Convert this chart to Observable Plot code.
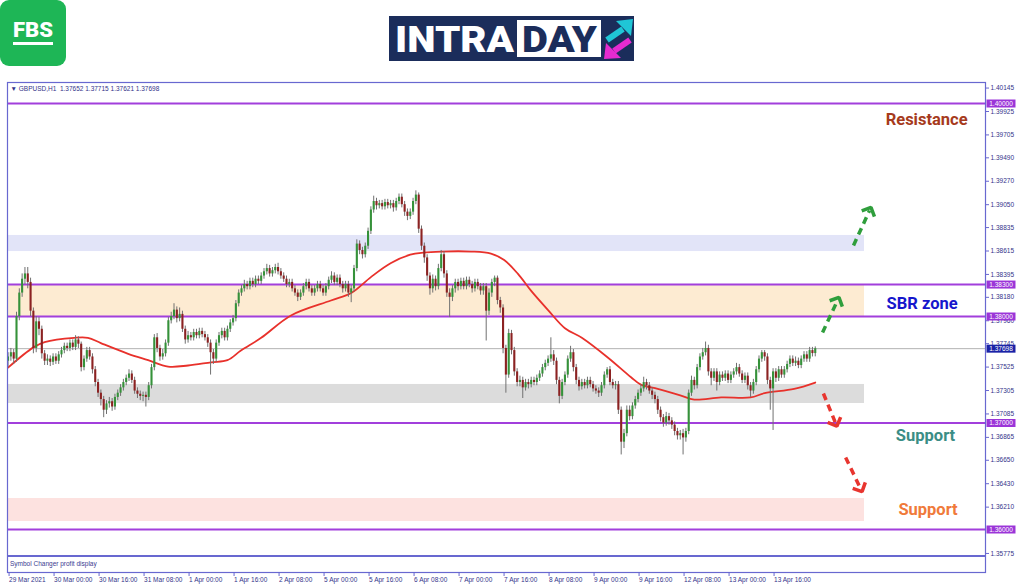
<!DOCTYPE html>
<html><head><meta charset="utf-8">
<script src="https://cdn.jsdelivr.net/npm/d3@7"></script>
<script src="https://cdn.jsdelivr.net/npm/@observablehq/plot@0.6"></script>
<style>
html,body{margin:0;padding:0;background:#fff}
body{width:1024px;height:587px;overflow:hidden;position:relative;font-family:"Liberation Sans",Arial,sans-serif}
#header{position:absolute;left:0;top:0;width:1024px;height:80px}
#chart{position:absolute;left:0;top:80px}
#sub{position:absolute;left:7px;top:555px;width:978px;height:0;border-top:2px solid #6868d0}
#subtxt{position:absolute;left:10px;top:560px;font-size:6.5px;color:#3b3b8f;white-space:nowrap}
</style></head>
<body>
<div id="header">
<svg width="1024" height="80" xmlns="http://www.w3.org/2000/svg">
  <rect x="0" y="0" width="66" height="66" rx="9" fill="#1eb656"/>
  <text x="13" y="37" font-family="Roboto" font-weight="900" font-size="20" fill="#fff" textLength="40" lengthAdjust="spacingAndGlyphs">FBS</text>
  <rect x="13" y="42" width="40" height="3" fill="#fff"/>
  <rect x="389" y="16" width="245" height="45" fill="#1b2d5b"/>
  <text x="395" y="52" font-family="Roboto" font-weight="900" font-size="37" fill="#fff" textLength="119" lengthAdjust="spacingAndGlyphs">INTRA</text>
  <rect x="517" y="20" width="84" height="37" fill="#fff"/>
  <text x="522" y="52" font-family="Roboto" font-weight="900" font-size="37" fill="#1b2d5b" textLength="75" lengthAdjust="spacingAndGlyphs">DAY</text>
  <line x1="607" y1="40" x2="623" y2="29" stroke="#1fc6d6" stroke-width="6"/>
  <polygon points="616,21 633,19 631,36" fill="#1fc6d6"/>
  <line x1="630" y1="40" x2="614" y2="51" stroke="#e52bd0" stroke-width="6"/>
  <polygon points="621,58 604,59 606,43" fill="#e52bd0"/>
</svg>
</div>
<div id="chart"></div>
<div id="sub"></div>
<div id="subtxt">Symbol Changer profit display</div>
<script>
// ---------- DATA ----------
const symbolName = "GBPUSD,H1";

const open = [
1.3758,1.3762,1.3766,1.3760,1.3800,1.3822,1.3835,1.3840,1.3832,1.3805,
1.3770,1.3795,1.3788,1.3765,1.3758,1.3760,1.3757,1.3762,1.3758,1.3764,
1.3768,1.3772,1.3770,1.3775,1.3771,1.3778,1.3774,1.3752,1.3760,1.3768,
1.3762,1.3750,1.3738,1.3728,1.3722,1.3712,1.3718,1.3720,1.3715,1.3724,
1.3728,1.3733,1.3738,1.3742,1.3746,1.3740,1.3730,1.3727,1.3725,1.3726,
1.3724,1.3735,1.3752,1.3780,1.3770,1.3762,1.3765,1.3775,1.3796,1.3800,
1.3806,1.3798,1.3802,1.3788,1.3778,1.3782,1.3780,1.3785,1.3782,1.3786,
1.3783,1.3780,1.3775,1.3766,1.3760,1.3775,1.3782,1.3786,1.3780,1.3788,
1.3794,1.3798,1.3812,1.3822,1.3826,1.3830,1.3828,1.3833,1.3830,1.3835,
1.3833,1.3838,1.3842,1.3845,1.3840,1.3843,1.3846,1.3842,1.3838,1.3835,
1.3830,1.3832,1.3826,1.3822,1.3818,1.3822,1.3828,1.3832,1.3826,1.3822,
1.3826,1.3830,1.3826,1.3822,1.3828,1.3834,1.3838,1.3832,1.3836,1.3830,
1.3826,1.3830,1.3822,1.3826,1.3845,1.3868,1.3862,1.3858,1.3866,1.3880,
1.3900,1.3908,1.3904,1.3906,1.3903,1.3907,1.3904,1.3906,1.3902,1.3908,
1.3912,1.3905,1.3898,1.3894,1.3898,1.3908,1.3914,1.3882,1.3866,1.3855,
1.3838,1.3826,1.3835,1.3828,1.3845,1.3858,1.3840,1.3822,1.3818,1.3826,
1.3832,1.3828,1.3833,1.3828,1.3834,1.3830,1.3826,1.3832,1.3828,1.3824,
1.3828,1.3805,1.3822,1.3832,1.3836,1.3815,1.3808,1.3770,1.3745,1.3784,
1.3768,1.3748,1.3738,1.3740,1.3733,1.3738,1.3736,1.3740,1.3738,1.3742,
1.3746,1.3752,1.3756,1.3760,1.3764,1.3758,1.3740,1.3725,1.3738,1.3745,
1.3760,1.3766,1.3752,1.3740,1.3734,1.3738,1.3735,1.3740,1.3736,1.3732,
1.3730,1.3728,1.3735,1.3745,1.3750,1.3738,1.3735,1.3736,1.3712,1.3682,
1.3690,1.3712,1.3706,1.3716,1.3722,1.3728,1.3732,1.3738,1.3735,1.3730,
1.3726,1.3722,1.3712,1.3705,1.3700,1.3706,1.3702,1.3698,1.3692,1.3688,
1.3690,1.3686,1.3692,1.3728,1.3740,1.3735,1.3752,1.3762,1.3766,1.3770,
1.3748,1.3742,1.3748,1.3738,1.3745,1.3742,1.3746,1.3740,1.3745,1.3748,
1.3752,1.3746,1.3740,1.3744,1.3735,1.3730,1.3738,1.3750,1.3760,1.3766,
1.3762,1.3740,1.3732,1.3748,1.3742,1.3750,1.3745,1.3750,1.3755,1.3760,
1.3756,1.3758,1.3754,1.3760,1.3764,1.3760,1.3768,1.37652];

const high = [
1.3766,1.3770,1.3769,1.3804,1.3826,1.3840,1.3846,1.3846,1.3836,1.3808,
1.3800,1.3799,1.3791,1.3768,1.3764,1.3763,1.3765,1.3765,1.3767,1.3771,
1.3775,1.3775,1.3778,1.3778,1.3782,1.3781,1.3776,1.3763,1.3771,1.3771,
1.3765,1.3753,1.3741,1.3731,1.3725,1.3721,1.3724,1.3723,1.3727,1.3731,
1.3736,1.3741,1.3745,1.3750,1.3749,1.3743,1.3733,1.3730,1.3729,1.3729,
1.3738,1.3755,1.3783,1.3784,1.3773,1.3769,1.3778,1.3799,1.3804,1.3812,
1.3809,1.3808,1.3805,1.3791,1.3786,1.3785,1.3788,1.3788,1.3789,1.3789,
1.3786,1.3783,1.3778,1.3769,1.3778,1.3785,1.3789,1.3789,1.3791,1.3797,
1.3801,1.3815,1.3825,1.3829,1.3834,1.3833,1.3836,1.3836,1.3838,1.3838,
1.3841,1.3845,1.3849,1.3848,1.3846,1.3849,1.3850,1.3845,1.3841,1.3838,
1.3835,1.3835,1.3829,1.3825,1.3825,1.3831,1.3835,1.3835,1.3829,1.3829,
1.3833,1.3833,1.3829,1.3831,1.3837,1.3842,1.3841,1.3839,1.3839,1.3833,
1.3833,1.3833,1.3829,1.3848,1.3872,1.3871,1.3865,1.3869,1.3883,1.3903,
1.3913,1.3911,1.3909,1.3909,1.3910,1.3910,1.3909,1.3909,1.3911,1.3915,
1.3915,1.3908,1.3901,1.3901,1.3911,1.3918,1.3916,1.3885,1.3869,1.3858,
1.3841,1.3839,1.3838,1.3849,1.3862,1.3861,1.3843,1.3826,1.3829,1.3835,
1.3835,1.3836,1.3836,1.3837,1.3837,1.3833,1.3835,1.3835,1.3831,1.3831,
1.3831,1.3826,1.3835,1.3838,1.3838,1.3818,1.3811,1.3773,1.3788,1.3787,
1.3771,1.3751,1.3744,1.3743,1.3741,1.3741,1.3743,1.3743,1.3745,1.3749,
1.3755,1.3759,1.3763,1.3780,1.3768,1.3761,1.3743,1.3741,1.3748,1.3763,
1.3772,1.3769,1.3755,1.3743,1.3741,1.3741,1.3743,1.3743,1.3739,1.3735,
1.3733,1.3738,1.3748,1.3752,1.3753,1.3741,1.3739,1.3739,1.3715,1.3694,
1.3716,1.3716,1.3719,1.3725,1.3731,1.3736,1.3743,1.3741,1.3738,1.3733,
1.3729,1.3725,1.3715,1.3708,1.3710,1.3709,1.3705,1.3701,1.3695,1.3693,
1.3694,1.3695,1.3731,1.3744,1.3743,1.3755,1.3765,1.3770,1.3776,1.3773,
1.3751,1.3751,1.3751,1.3748,1.3748,1.3749,1.3749,1.3748,1.3751,1.3756,
1.3755,1.3749,1.3747,1.3747,1.3738,1.3741,1.3753,1.3763,1.3768,1.3768,
1.3765,1.3743,1.3751,1.3751,1.3753,1.3753,1.3753,1.3758,1.3763,1.3763,
1.3762,1.3761,1.3763,1.3767,1.3767,1.3771,1.3771,1.37715];

const low = [
1.3752,1.3758,1.3755,1.3757,1.3796,1.3818,1.3830,1.3826,1.3800,1.3765,
1.3766,1.3782,1.3760,1.3754,1.3754,1.3753,1.3754,1.3755,1.3755,1.3761,
1.3765,1.3767,1.3767,1.3768,1.3768,1.3770,1.3748,1.3749,1.3757,1.3759,
1.3746,1.3734,1.3724,1.3716,1.3705,1.3708,1.3714,1.3711,1.3712,1.3721,
1.3725,1.3730,1.3735,1.3739,1.3737,1.3727,1.3723,1.3721,1.3720,1.3715,
1.3721,1.3732,1.3749,1.3766,1.3758,1.3759,1.3762,1.3772,1.3793,1.3797,
1.3794,1.3795,1.3785,1.3774,1.3775,1.3777,1.3777,1.3779,1.3779,1.3780,
1.3777,1.3771,1.3745,1.3755,1.3757,1.3772,1.3779,1.3777,1.3777,1.3785,
1.3791,1.3795,1.3809,1.3819,1.3823,1.3825,1.3825,1.3827,1.3827,1.3830,
1.3830,1.3835,1.3839,1.3837,1.3837,1.3840,1.3839,1.3835,1.3832,1.3827,
1.3827,1.3823,1.3819,1.3814,1.3815,1.3819,1.3825,1.3823,1.3819,1.3819,
1.3823,1.3823,1.3819,1.3819,1.3825,1.3831,1.3829,1.3829,1.3827,1.3822,
1.3823,1.3818,1.3813,1.3823,1.3842,1.3858,1.3854,1.3855,1.3863,1.3877,
1.3897,1.3900,1.3901,1.3900,1.3900,1.3901,1.3901,1.3898,1.3899,1.3905,
1.3902,1.3894,1.3890,1.3891,1.3895,1.3905,1.3878,1.3862,1.3850,1.3833,
1.3820,1.3822,1.3824,1.3825,1.3842,1.3836,1.3818,1.3799,1.3814,1.3822,
1.3824,1.3825,1.3825,1.3825,1.3827,1.3822,1.3823,1.3825,1.3820,1.3820,
1.3777,1.3801,1.3818,1.3828,1.3811,1.3803,1.3765,1.3728,1.3742,1.3764,
1.3744,1.3734,1.3734,1.3723,1.3730,1.3732,1.3733,1.3735,1.3735,1.3739,
1.3743,1.3749,1.3753,1.3757,1.3754,1.3736,1.3718,1.3722,1.3735,1.3742,
1.3757,1.3748,1.3736,1.3730,1.3731,1.3732,1.3732,1.3733,1.3729,1.3727,
1.3724,1.3725,1.3732,1.3742,1.3735,1.3732,1.3731,1.3708,1.3670,1.3676,
1.3687,1.3702,1.3703,1.3713,1.3719,1.3725,1.3729,1.3731,1.3727,1.3722,
1.3718,1.3708,1.3701,1.3696,1.3697,1.3698,1.3694,1.3688,1.3684,1.3684,
1.3670,1.3682,1.3689,1.3725,1.3731,1.3732,1.3749,1.3759,1.3763,1.3744,
1.3735,1.3739,1.3730,1.3735,1.3739,1.3739,1.3737,1.3737,1.3742,1.3745,
1.3743,1.3737,1.3737,1.3731,1.3724,1.3727,1.3735,1.3747,1.3757,1.3758,
1.3736,1.3712,1.3693,1.3738,1.3739,1.3742,1.3742,1.3747,1.3752,1.3753,
1.3753,1.3751,1.3751,1.3757,1.3757,1.3757,1.3762,1.37621];

const close = [
1.3762,1.3766,1.3760,1.3800,1.3822,1.3835,1.3840,1.3832,1.3805,1.3770,
1.3795,1.3788,1.3765,1.3758,1.3760,1.3757,1.3762,1.3758,1.3764,1.3768,
1.3772,1.3770,1.3775,1.3771,1.3778,1.3774,1.3752,1.3760,1.3768,1.3762,
1.3750,1.3738,1.3728,1.3722,1.3712,1.3718,1.3720,1.3715,1.3724,1.3728,
1.3733,1.3738,1.3742,1.3746,1.3740,1.3730,1.3727,1.3725,1.3726,1.3724,
1.3735,1.3752,1.3780,1.3770,1.3762,1.3765,1.3775,1.3796,1.3800,1.3806,
1.3798,1.3802,1.3788,1.3778,1.3782,1.3780,1.3785,1.3782,1.3786,1.3783,
1.3780,1.3775,1.3766,1.3760,1.3775,1.3782,1.3786,1.3780,1.3788,1.3794,
1.3798,1.3812,1.3822,1.3826,1.3830,1.3828,1.3833,1.3830,1.3835,1.3833,
1.3838,1.3842,1.3845,1.3840,1.3843,1.3846,1.3842,1.3838,1.3835,1.3830,
1.3832,1.3826,1.3822,1.3818,1.3822,1.3828,1.3832,1.3826,1.3822,1.3826,
1.3830,1.3826,1.3822,1.3828,1.3834,1.3838,1.3832,1.3836,1.3830,1.3826,
1.3830,1.3822,1.3826,1.3845,1.3868,1.3862,1.3858,1.3866,1.3880,1.3900,
1.3908,1.3904,1.3906,1.3903,1.3907,1.3904,1.3906,1.3902,1.3908,1.3912,
1.3905,1.3898,1.3894,1.3898,1.3908,1.3914,1.3882,1.3866,1.3855,1.3838,
1.3826,1.3835,1.3828,1.3845,1.3858,1.3840,1.3822,1.3818,1.3826,1.3832,
1.3828,1.3833,1.3828,1.3834,1.3830,1.3826,1.3832,1.3828,1.3824,1.3828,
1.3805,1.3822,1.3832,1.3836,1.3815,1.3808,1.3770,1.3745,1.3784,1.3768,
1.3748,1.3738,1.3740,1.3733,1.3738,1.3736,1.3740,1.3738,1.3742,1.3746,
1.3752,1.3756,1.3760,1.3764,1.3758,1.3740,1.3725,1.3738,1.3745,1.3760,
1.3766,1.3752,1.3740,1.3734,1.3738,1.3735,1.3740,1.3736,1.3732,1.3730,
1.3728,1.3735,1.3745,1.3750,1.3738,1.3735,1.3736,1.3712,1.3682,1.3690,
1.3712,1.3706,1.3716,1.3722,1.3728,1.3732,1.3738,1.3735,1.3730,1.3726,
1.3722,1.3712,1.3705,1.3700,1.3706,1.3702,1.3698,1.3692,1.3688,1.3690,
1.3686,1.3692,1.3728,1.3740,1.3735,1.3752,1.3762,1.3766,1.3770,1.3748,
1.3742,1.3748,1.3738,1.3745,1.3742,1.3746,1.3740,1.3745,1.3748,1.3752,
1.3746,1.3740,1.3744,1.3735,1.3730,1.3738,1.3750,1.3760,1.3766,1.3762,
1.3740,1.3732,1.3748,1.3742,1.3750,1.3745,1.3750,1.3755,1.3760,1.3756,
1.3758,1.3754,1.3760,1.3764,1.3760,1.3768,1.37652,1.37698];

// moving average (red line): bar index -> price
const maBar = [0,9,13,23.5,28.4,33,42.7,49.8,56.9,64,72.2,78,82.8,90,100.6,114.8,122,129,136,143,147.6,154,164.6,171.7,176.4,181.3,186,192,198,204,213,221.5,225,231,239,244,253.5,264,269,279.5,287];
const maPrice = [1.3752,1.3771,1.3776,1.3780,1.3780,1.3775,1.3765,1.3759,1.3753,1.3754,1.3757,1.3759,1.3768,1.3780,1.3801,1.3815,1.3822,1.3837,1.3850,1.3858,1.3860,1.3861,1.3861,1.3859,1.3853,1.3840,1.3824,1.3806,1.3789,1.3780,1.3762,1.3743,1.3736,1.3732,1.3726,1.3722,1.3724,1.3724,1.3728,1.3732,1.3738];

// horizontal levels
const levels = [1.40000, 1.38300, 1.38000, 1.37000, 1.36000];
const bidPrice = close[close.length - 1];

// zones
const zoneLow  = [1.38610, 1.38000, 1.37183, 1.36075];
const zoneHigh = [1.38761, 1.38300, 1.37362, 1.36291];
const zoneEndBar = 304.5;

// annotation arrows [fromBar, fromPrice, toBar, toPrice]
const upArrows = [[300.6, 1.38667, 306.3, 1.38995], [289.6, 1.37850, 294.9, 1.38150]];
const downArrows = [[289.9, 1.37277, 294.2, 1.37000], [297.8, 1.36676, 303.1, 1.36385]];

// notes
const noteText  = ["Resistance", "SBR zone", "Support", "Support"];
const noteBar   = [326.6, 325.0, 326.2, 327.1];
const notePrice = [1.39845, 1.38120, 1.36883, 1.36188];

// axes
const yTicks = [1.40145,1.39925,1.39705,1.39490,1.39270,1.39050,1.38835,1.38615,1.38395,1.38180,1.37960,1.37745,1.37525,1.37305,1.37085,1.36865,1.36650,1.36430,1.36210,1.35775];
const xTickBars = [0,16,32,48,64,80,96,112,128,144,160,176,192,208,224,240,256,272];
const xTickLabels = ["29 Mar 2021","30 Mar 00:00","30 Mar 16:00","31 Mar 08:00","1 Apr 00:00","1 Apr 16:00","2 Apr 08:00","5 Apr 00:00","5 Apr 16:00","6 Apr 08:00","7 Apr 00:00","7 Apr 16:00","8 Apr 08:00","9 Apr 00:00","9 Apr 16:00","12 Apr 08:00","13 Apr 00:00","13 Apr 16:00"];

// ---------- STYLE ----------
const C = {
  frame: "#6868d0", text: "#33338a", level: "#a23fdc", levelBox: "#9b35d8", bidBox: "#1a22a6",
  bid: "#b2b2b2", up: "#35923a", down: "#8c2222", wick: "#707070", ma: "#e8312b",
  zones: ["#e2e4f8", "#fdebd2", "#dcdcdc", "#fde2e0"],
  arrowUp: "#2f9e3c", arrowDown: "#e8352f",
  notes: ["#a63a1c", "#1616cc", "#3b8d85", "#f07a3a"]
};
const xDomain = [-0.2, 347.53];
const yDomain = [1.357465, 1.401972];

// ---------- BUILD ----------
const bars = close.map((c, i) => ({i, o: open[i], h: Math.max(high[i], open[i], c), l: Math.min(low[i], open[i], c), c}));
const ma = maBar.map((b, k) => ({b, p: maPrice[k]}));
const zones = zoneLow.map((lo, k) => ({lo, hi: zoneHigh[k], k}));
const toArrow = a => ({x1: a[0], y1: a[1], x2: a[2], y2: a[3]});
const notes = noteText.map((t, k) => ({t, b: noteBar[k], p: notePrice[k], k}));
const last = bars[bars.length - 1];
const headerText = `▼ ${symbolName}  ${last.o.toFixed(5)} ${last.h.toFixed(5)} ${last.l.toFixed(5)} ${last.c.toFixed(5)}`;

const boxSymbol = {draw(ctx) { ctx.rect(-14.5, -4, 29, 8); }};
const fmt5 = d => d.toFixed(5);

const chart = Plot.plot({
  width: 1024, height: 507,
  marginLeft: 7, marginRight: 39, marginTop: 2, marginBottom: 15,
  style: {background: "transparent", fontFamily: "Liberation Sans, Arial, sans-serif"},
  x: {domain: xDomain, axis: null},
  y: {domain: yDomain, range: [476, 2], axis: null},
  marks: [
    ...zones.map(z => Plot.rect([z], {x1: xDomain[0], x2: zoneEndBar, y1: "lo", y2: "hi", fill: C.zones[z.k]})),
    Plot.ruleY(levels, {stroke: C.level, strokeWidth: 2}),
    Plot.ruleY([bidPrice], {stroke: C.bid, strokeWidth: 1}),
    Plot.line(ma, {x: "b", y: "p", stroke: C.ma, strokeWidth: 1.8, curve: "catmull-rom"}),
    Plot.ruleX(bars, {x: "i", y1: "l", y2: "h", stroke: C.wick, strokeWidth: 1, clip: true}),
    Plot.ruleX(bars, {filter: d => d.c >= d.o, x: "i", y1: "o", y2: "c", stroke: C.up, strokeWidth: 2.1, clip: true}),
    Plot.ruleX(bars, {filter: d => d.c < d.o, x: "i", y1: "o", y2: "c", stroke: C.down, strokeWidth: 2.1, clip: true}),
    Plot.link(upArrows.map(toArrow), {x1: "x1", y1: "y1", x2: "x2", y2: "y2", stroke: C.arrowUp, strokeWidth: 3.5, strokeDasharray: "7,5", markerEnd: "arrow"}),
    Plot.link(downArrows.map(toArrow), {x1: "x1", y1: "y1", x2: "x2", y2: "y2", stroke: C.arrowDown, strokeWidth: 3.5, strokeDasharray: "7,5", markerEnd: "arrow"}),
    ...notes.map(n => Plot.text([n], {x: "b", y: "p", text: "t", fill: C.notes[n.k], fontSize: 16.5, fontWeight: 700, fontFamily: "Roboto", textAnchor: "middle"})),
    Plot.text([headerText], {frameAnchor: "top-left", text: d => d, dx: 3, dy: 4, lineAnchor: "top", fontSize: 6.5, fill: C.text}),
    Plot.frame({stroke: C.frame, strokeWidth: 1.2}),
    Plot.axisY(yTicks, {anchor: "right", tickSize: 3, tickPadding: 2, tickFormat: fmt5, fontSize: 6.5, color: C.text, stroke: C.frame, label: null}),
    Plot.axisX(xTickBars, {anchor: "bottom", tickSize: 4, tickPadding: 1, tickFormat: d => xTickLabels[xTickBars.indexOf(d)], textAnchor: "start", dx: 1, fontSize: 6.5, color: C.text, stroke: C.frame, label: null}),
    Plot.dot(levels, {y: d => d, frameAnchor: "right", dx: 15.5, symbol: boxSymbol, fill: C.levelBox, stroke: null}),
    Plot.text(levels, {y: d => d, frameAnchor: "right", dx: 15.5, text: fmt5, fill: "#fff", fontSize: 6.5, textAnchor: "middle"}),
    Plot.dot([bidPrice], {y: d => d, frameAnchor: "right", dx: 15.5, symbol: boxSymbol, fill: C.bidBox, stroke: null}),
    Plot.text([bidPrice], {y: d => d, frameAnchor: "right", dx: 15.5, text: fmt5, fill: "#fff", fontSize: 6.5, textAnchor: "middle"})
  ]
});
chart.querySelectorAll("marker").forEach(m => { m.setAttribute("stroke-dasharray", "none"); m.setAttribute("stroke-linecap", "butt"); m.setAttribute("stroke-linejoin", "miter"); });
document.getElementById("chart").appendChild(chart);
</script>
</body></html>
